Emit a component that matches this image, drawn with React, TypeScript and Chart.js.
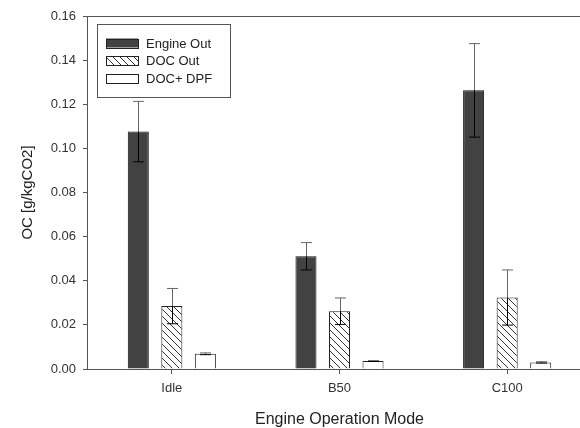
import React, { useEffect, useRef } from "react";
import { Chart, registerables } from "chart.js";

Chart.register(...registerables);

const categories = ["Idle", "B50", "C100"];
const seriesLabels = ["Engine Out", "DOC Out", "DOC+ DPF"];
const engineOut = [0.1076, 0.0511, 0.1263];
const engineOutErr = [0.0137, 0.0062, 0.0212];
const docOut = [0.0285, 0.0262, 0.0324];
const docOutErr = [0.008, 0.006, 0.0125];
const docDpf = [0.0069, 0.0036, 0.003];
const docDpfErr = [0.0004, 0.0002, 0.0003];
const yTicks = [0, 0.02, 0.04, 0.06, 0.08, 0.1, 0.12, 0.14, 0.16];

const FONT = "'Liberation Sans', Arial, sans-serif";

function makeHatch(): CanvasPattern | string {
  const c = document.createElement("canvas");
  const s = 7;
  c.width = s;
  c.height = s;
  const g = c.getContext("2d");
  if (!g) return "#fff";
  g.fillStyle = "#fff";
  g.fillRect(0, 0, s, s);
  g.strokeStyle = "#333";
  g.lineWidth = 1;
  g.beginPath();
  g.moveTo(-1, -1);
  g.lineTo(s + 1, s + 1);
  g.moveTo(-1, s - 1);
  g.lineTo(1, s + 1);
  g.moveTo(s - 1, -1);
  g.lineTo(s + 1, 1);
  g.stroke();
  const p = g.createPattern(c, "repeat");
  return p || "#fff";
}

export default function App() {
  const ref = useRef<HTMLCanvasElement | null>(null);

  useEffect(() => {
    const canvas = ref.current;
    if (!canvas) return;
    const hatch = makeHatch();
    const errs = [engineOutErr, docOutErr, docDpfErr];

    const frame = {
      id: "frame",
      afterDatasetsDraw(chart: any) {
        const { ctx, chartArea: a } = chart;
        ctx.save();
        ctx.strokeStyle = "#555";
        ctx.lineWidth = 1;
        ctx.strokeRect(Math.round(a.left) - 0.5, Math.round(a.top) + 0.5, a.right - a.left, a.bottom - a.top);
        ctx.restore();
      },
    };

    const errorBars = {
      id: "errorBars",
      afterDatasetsDraw(chart: any) {
        const { ctx } = chart;
        const ys = chart.scales.y;
        ctx.save();
        chart.data.datasets.forEach((ds: any, di: number) => {
          const meta = chart.getDatasetMeta(di);
          meta.data.forEach((bar: any, i: number) => {
            const v = ds.data[i];
            const e = errs[di][i];
            const x = Math.round(bar.x) + 0.5;
            const yTop = ys.getPixelForValue(v + e);
            const yVal = ys.getPixelForValue(v);
            const yLow = ys.getPixelForValue(v - e);
            const half = 5.5;
            ctx.lineWidth = 1;
            ctx.strokeStyle = "#666";
            ctx.beginPath();
            ctx.moveTo(x, yVal);
            ctx.lineTo(x, yTop);
            ctx.moveTo(x - half, yTop);
            ctx.lineTo(x + half, yTop);
            ctx.stroke();
            ctx.strokeStyle = "#000";
            ctx.beginPath();
            ctx.moveTo(x, yVal);
            ctx.lineTo(x, yLow);
            ctx.moveTo(x - half, yLow);
            ctx.lineTo(x + half, yLow);
            ctx.stroke();
          });
        });
        ctx.restore();
      },
    };

    const legendBox = {
      id: "legendBox",
      afterDraw(chart: any) {
        const { ctx, chartArea: a } = chart;
        const x0 = a.left + 9;
        const y0 = a.top + 8;
        ctx.save();
        ctx.strokeStyle = "#555";
        ctx.lineWidth = 1;
        ctx.fillStyle = "#fff";
        ctx.fillRect(x0 + 0.5, y0 + 0.5, 133, 73);
        ctx.strokeRect(x0 + 0.5, y0 + 0.5, 133, 73);
        chart.data.datasets.forEach((ds: any, i: number) => {
          const cy = y0 + 19 + i * 17.5;
          ctx.fillStyle = ds.backgroundColor;
          ctx.fillRect(x0 + 9, cy - 4.5, 32, 9);
          ctx.strokeStyle = "#222";
          ctx.strokeRect(x0 + 9.5, Math.round(cy - 4.5) + 0.5, 32, 9);
          ctx.fillStyle = "#222";
          ctx.font = `13px ${FONT}`;
          ctx.textBaseline = "middle";
          ctx.textAlign = "left";
          ctx.fillText(ds.label, x0 + 49, cy + 1);
        });
        ctx.restore();
      },
    };

    const chart = new Chart(canvas, {
      type: "bar",
      data: {
        labels: categories,
        datasets: [
          {
            label: seriesLabels[0],
            data: engineOut,
            backgroundColor: "#424242",
            borderColor: "#111",
            borderWidth: 1,
          },
          {
            label: seriesLabels[1],
            data: docOut,
            backgroundColor: hatch as any,
            borderColor: "#222",
            borderWidth: 1,
          },
          {
            label: seriesLabels[2],
            data: docDpf,
            backgroundColor: "#fff",
            borderColor: "#222",
            borderWidth: 1,
          },
        ],
      },
      options: {
        responsive: false,
        animation: false,
        layout: { padding: { left: 16, top: 16, right: 9, bottom: 0 } },
        datasets: { bar: { categoryPercentage: 0.6, barPercentage: 0.627 } },
        plugins: {
          legend: { display: false },
          tooltip: { enabled: false },
        },
        scales: {
          x: {
            offset: true,
            afterFit: (s: any) => {
              s.height = 59;
            },
            grid: {
              offset: false,
              drawOnChartArea: false,
              drawTicks: true,
              tickLength: 5,
              tickColor: "#555",
            },
            border: { display: false },
            ticks: {
              color: "#333",
              font: { family: FONT, size: 13 },
              padding: 7,
              maxRotation: 0,
            },
            title: {
              display: true,
              text: "Engine Operation Mode",
              color: "#222",
              font: { family: FONT, size: 16, lineHeight: 1 },
              padding: { top: 0, bottom: 0 },
            },
          },
          y: {
            min: 0,
            max: 0.16,
            afterFit: (s: any) => {
              s.width = 72;
            },
            afterBuildTicks: (s: any) => {
              s.ticks = yTicks.map((v) => ({ value: v }));
            },
            grid: {
              drawOnChartArea: false,
              drawTicks: true,
              tickLength: 5,
              tickColor: "#555",
            },
            border: { display: false },
            ticks: {
              color: "#333",
              font: { family: FONT, size: 13 },
              padding: 7,
              callback: (v: any) => Number(v).toFixed(2),
            },
            title: {
              display: true,
              text: "OC [g/kgCO2]",
              color: "#222",
              font: { family: FONT, size: 15, lineHeight: 1.2 },
              padding: { top: 3, bottom: 4 },
            },
          },
        },
      },
      plugins: [frame, errorBars, legendBox],
    });
    return () => chart.destroy();
  }, []);

  return (
    <div
      style={{
        position: "absolute",
        left: 0,
        top: 0,
        width: 580,
        height: 428,
        overflow: "hidden",
        background: "#fff",
      }}
    >
      <canvas ref={ref} width={600} height={428} style={{ display: "block" }} />
    </div>
  );
}
